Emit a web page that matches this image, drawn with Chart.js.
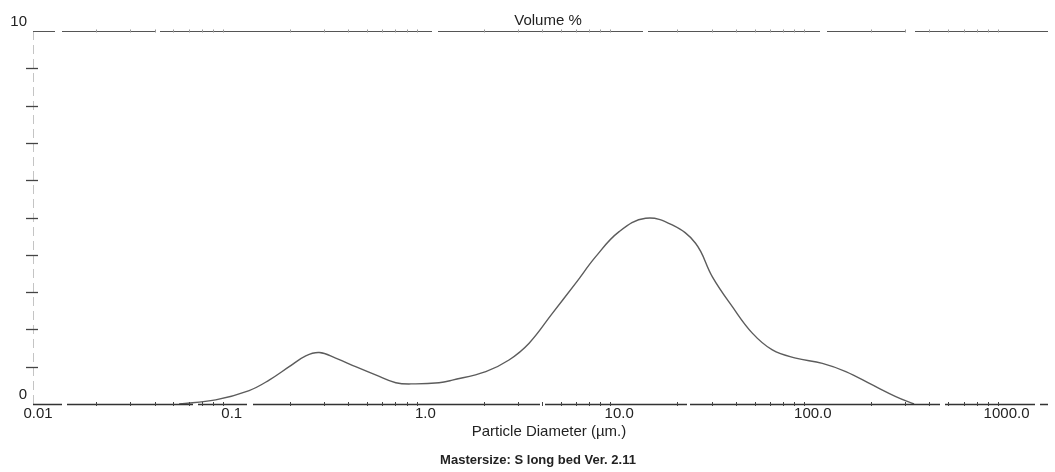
<!DOCTYPE html>
<html>
<head>
<meta charset="utf-8">
<title>Particle size distribution</title>
<script src="https://cdn.jsdelivr.net/npm/chart.js@4/dist/chart.umd.min.js"></script>
<style>
    html, body { margin: 0; padding: 0; background: #fff; }
    canvas { display: block; }
</style>
</head>
<body>
<canvas id="psd-chart" width="1055" height="472"></canvas>
<script>
// Mastersizer particle size distribution - volume % vs diameter

// Diameter (um) and volume % along the curve
const diameters = [0.0535, 0.0826, 0.123, 0.156, 0.198, 0.241, 0.283, 0.344, 0.436, 0.553,
    0.703, 0.891, 1.175, 1.377, 2.05, 2.70, 3.43, 4.52, 5.97, 7.57,
    10.0, 13.7, 18.8, 24.8, 30.3, 38.4, 48.7, 61.8, 81.6, 112,
    148, 203, 268, 333];
const volumes = [0.0, 0.11, 0.36, 0.64, 1.0, 1.29, 1.38, 1.23, 1.0, 0.78,
    0.57, 0.54, 0.57, 0.64, 0.87, 1.18, 1.63, 2.43, 3.24, 3.95,
    4.62, 4.98, 4.80, 4.31, 3.41, 2.61, 1.90, 1.45, 1.23, 1.09,
    0.87, 0.51, 0.20, 0.0];

// Axis ticks
const xTickValues = [0.01, 0.1, 1, 10, 100, 1000];
const xTickLabels = ['0.01', '0.1', '1.0', '10.0', '100.0', '1000.0'];
const xMinorSteps = [2, 3, 4, 5, 6, 7, 8, 9];
const yLabelled = [0, 10];

const X_MIN = 0.00942;
const X_MAX = 1637;
const FONT = "'Liberation Sans', Arial, sans-serif";
const INK = '#222';

// Frame, tick marks and captions drawn on top of the scales
const framePlugin = {
    id: 'frame',
    afterDatasetsDraw(chart) {
        const { ctx, chartArea: area, scales: { x, y } } = chart;
        ctx.save();

        // faint left axis
        ctx.strokeStyle = '#c4c4c4';
        ctx.lineWidth = 1;
        ctx.setLineDash([9, 5]);
        ctx.beginPath();
        ctx.moveTo(area.left + 0.5, area.top);
        ctx.lineTo(area.left + 0.5, area.bottom);
        ctx.stroke();

        // top border, broken in a few places like the print
        ctx.strokeStyle = '#555';
        ctx.lineWidth = 1.2;
        ctx.setLineDash([22, 7, 93, 5, 272, 6, 205, 5, 172, 7, 78, 10, 300]);
        ctx.beginPath();
        ctx.moveTo(area.left, y.getPixelForValue(10) + 0.5);
        ctx.lineTo(area.right, y.getPixelForValue(10) + 0.5);
        ctx.stroke();

        // bottom axis
        ctx.strokeStyle = '#333';
        ctx.lineWidth = 1.3;
        ctx.setLineDash([29, 5, 126, 5, 49, 6, 287, 5, 142, 3, 250, 5, 90, 5, 200]);
        ctx.beginPath();
        ctx.moveTo(area.left, y.getPixelForValue(0) + 0.5);
        ctx.lineTo(area.right, y.getPixelForValue(0) + 0.5);
        ctx.stroke();
        ctx.setLineDash([]);

        // minor ticks on the bottom and top lines
        const yb = y.getPixelForValue(0);
        const yt = y.getPixelForValue(10);
        xTickValues.forEach(decade => {
            xMinorSteps.forEach(m => {
                const v = decade * m;
                if (v > X_MAX) return;
                const px = Math.round(x.getPixelForValue(v)) + 0.5;
                ctx.strokeStyle = '#444';
                ctx.lineWidth = 1;
                ctx.beginPath();
                ctx.moveTo(px, yb - 2);
                ctx.lineTo(px, yb + 2);
                ctx.stroke();
                ctx.strokeStyle = '#999';
                ctx.beginPath();
                ctx.moveTo(px, yt - 1.5);
                ctx.lineTo(px, yt + 1.5);
                ctx.stroke();
            });
        });

        // y tick dashes across the left axis
        ctx.strokeStyle = '#444';
        ctx.lineWidth = 1.3;
        for (let v = 1; v < 10; v++) {
            const py = Math.round(y.getPixelForValue(v)) + 0.5;
            ctx.beginPath();
            ctx.moveTo(area.left - 7, py);
            ctx.lineTo(area.left + 5, py);
            ctx.stroke();
        }

        // captions
        ctx.fillStyle = INK;
        ctx.textAlign = 'center';
        ctx.textBaseline = 'middle';
        ctx.font = `15px ${FONT}`;
        ctx.fillText('Volume %', 548, 21);
        ctx.fillText('Particle Diameter (\u00b5m.)', 549, 432);
        ctx.font = `bold 13px ${FONT}`;
        ctx.fillText('Mastersize: S long bed Ver. 2.11', 538, 460);

        ctx.restore();
    }
};

const ctx = document.getElementById('psd-chart').getContext('2d');

new Chart(ctx, {
    type: 'line',
    data: {
        datasets: [{
            label: 'Volume %',
            data: diameters.map((d, i) => ({ x: d, y: volumes[i] })),
            borderColor: '#5c5c5c',
            borderWidth: 1.4,
            pointRadius: 0,
            fill: false,
            tension: 0.4
        }]
    },
    options: {
        responsive: false,
        animation: false,
        layout: { padding: { top: 31, right: 7, left: 0, bottom: 0 } },
        plugins: {
            legend: { display: false },
            tooltip: { enabled: false }
        },
        scales: {
            x: {
                type: 'logarithmic',
                min: X_MIN,
                max: X_MAX,
                afterBuildTicks: (scale) => {
                    scale.ticks = xTickValues.map(v => ({ value: v }));
                },
                afterFit: (scale) => { scale.height = 68; },
                grid: { display: false, drawTicks: false },
                border: { display: false },
                ticks: {
                    autoSkip: false,
                    maxRotation: 0,
                    padding: 1,
                    color: INK,
                    font: { family: FONT, size: 15 },
                    callback: (value, index) => xTickLabels[index]
                }
            },
            y: {
                min: 0,
                max: 10,
                afterFit: (scale) => { scale.width = 33; },
                grid: { display: false, drawTicks: false },
                border: { display: false },
                ticks: {
                    stepSize: 1,
                    padding: 6,
                    labelOffset: -9,
                    color: INK,
                    font: { family: FONT, size: 15 },
                    callback: (value) => yLabelled.includes(value) ? String(value) : ''
                }
            }
        }
    },
    plugins: [framePlugin]
});
</script>
</body>
</html>
